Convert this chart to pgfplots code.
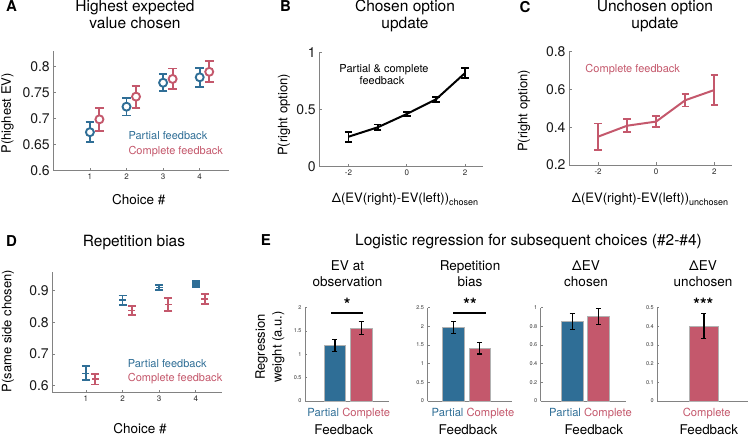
\documentclass[border=0pt]{standalone}
\usepackage{fontspec}
\setmainfont{TeX Gyre Heros}
\usepackage{pgfplots}
\pgfplotsset{compat=1.18}
\definecolor{pblue}{RGB}{47,110,150}
\definecolor{cred}{RGB}{196,88,108}
\definecolor{axgray}{RGB}{130,130,130}
\newcommand{\fs}[1]{\fontsize{#1}{#1}\selectfont}
\pgfplotsset{
  base/.style={scale only axis, anchor=south west,
    axis x line*=bottom, axis y line*=left,
    axis line style={-, axgray, line width=0.7pt},
    tick style={axgray, line width=0.7pt},
    tick align=inside, major tick length=2.5pt,
    /pgf/number format/assume math mode=true,
    clip=false,
    xticklabel style={font=\fs{8}, text=black!85},
    yticklabel style={font=\fs{14}, text=black!90},
  },
  ebase/.style={base, xtick=\empty, ymin=0,
    yticklabel style={font=\fs{5.5}, text=black!80},
    major tick length=2pt},
  ebars/.style={error bars/.cd, y dir=both, y explicit,
    error bar style={black, line width=1.2pt},
    error mark options={rotate=90, black, mark size=2.5pt, line width=1.2pt}},
  circ/.style={only marks, mark=*, mark size=4pt,
    mark options={draw=#1, fill=white, line width=1.9pt},
    error bars/.cd, y dir=both, y explicit,
    error bar style={#1, line width=1.9pt},
    error mark options={rotate=90, #1, mark size=4.3pt, line width=1.9pt}},
  dash/.style={only marks, mark=-, mark size=3.5pt,
    mark options={draw=#1, line width=1.6pt},
    error bars/.cd, y dir=both, y explicit,
    error bar style={#1, line width=1.8pt},
    error mark options={rotate=90, #1, mark size=4pt, line width=1.8pt}},
  lineeb/.style={#1, line width=2pt, no markers,
    error bars/.cd, y dir=both, y explicit,
    error bar style={#1, line width=1.8pt},
    error mark options={rotate=90, #1, mark size=3.7pt, line width=1.8pt}},
}
\begin{document}
\begin{tikzpicture}
\path[use as bounding box] (0,0) rectangle (750pt,437pt);

% ---------------- Panel A ----------------
\begin{axis}[base, at={(53.3pt,266.3pt)}, width=175.7pt, height=119.7pt,
  xmin=0, xmax=4.8, ymin=0.6, ymax=0.83,
  xtick={1,2,3,4}, ytick={0.6,0.65,0.7,0.75,0.8}]
\addplot[circ=pblue] coordinates {
  (1,0.674) +- (0,0.019)
  (2,0.723) +- (0,0.017)
  (3,0.769) +- (0,0.016)
  (4,0.7795) +- (0,0.018)};
\addplot[circ=cred] coordinates {
  (1.26,0.6987) +- (0,0.022)
  (2.26,0.7423) +- (0,0.021)
  (3.26,0.7763) +- (0,0.020)
  (4.26,0.790) +- (0,0.020)};
\end{axis}
\node[anchor=base west, font=\fs{15}\bfseries] at (2.7pt,425.3pt) {A};
\node[anchor=base, font=\fs{15.5}] at (135pt,425.3pt) {Highest expected};
\node[anchor=base, font=\fs{15.5}] at (135pt,408.7pt) {value chosen};
\node[rotate=90, font=\fs{13}] at (7.5pt,323.7pt) {P(highest EV)};
\node[anchor=base, font=\fs{13.5}] at (138.7pt,232pt) {Choice \#};
\node[anchor=base west, font=\fs{11}, text=pblue] at (125pt,297pt) {Partial feedback};
\node[anchor=base west, font=\fs{11}, text=cred] at (125pt,282.7pt) {Complete feedback};

% ---------------- Panel B ----------------
\begin{axis}[base, at={(319.3pt,270.3pt)}, width=163.4pt, height=114.4pt,
  xmin=-3, xmax=2.6, ymin=0, ymax=1,
  xtick={-2,0,2}, ytick={0,0.5,1}]
\addplot[lineeb=black] coordinates {
  (-2,0.262) +- (0,0.043)
  (-1,0.344) +- (0,0.024)
  (0,0.461) +- (0,0.018)
  (1,0.589) +- (0,0.023)
  (2,0.820) +- (0,0.045)};
\end{axis}
\node[anchor=base west, font=\fs{15}\bfseries] at (276.7pt,425.3pt) {B};
\node[anchor=base, font=\fs{15.5}] at (405pt,425.3pt) {Chosen option};
\node[anchor=base, font=\fs{15.5}] at (405pt,408.7pt) {update};
\node[rotate=90, font=\fs{13}] at (284pt,322pt) {P(right option)};
\node[anchor=base, font=\fs{13}] at (405pt,234.3pt) {Δ(EV(right)-EV(left))\raisebox{-2.5pt}{\fs{9}chosen}};
\node[anchor=base, font=\fs{11}] at (384pt,364.3pt) {Partial \& complete};
\node[anchor=base, font=\fs{11}] at (382pt,352pt) {feedback};

% ---------------- Panel C ----------------
\begin{axis}[base, at={(569pt,272pt)}, width=162.7pt, height=113.3pt,
  xmin=-3, xmax=2.6, ymin=0.2, ymax=0.8,
  xtick={-2,0,2}, ytick={0.2,0.4,0.6,0.8}]
\addplot[lineeb=cred] coordinates {
  (-2,0.350) +- (0,0.070)
  (-1,0.408) +- (0,0.034)
  (0,0.430) +- (0,0.030)
  (1,0.543) +- (0,0.033)
  (2,0.597) +- (0,0.078)};
\end{axis}
\node[anchor=base west, font=\fs{15}\bfseries] at (516pt,424.7pt) {C};
\node[anchor=base, font=\fs{15.5}] at (655pt,425.3pt) {Unchosen option};
\node[anchor=base, font=\fs{15.5}] at (655pt,408.7pt) {update};
\node[rotate=90, font=\fs{13}] at (524pt,326pt) {P(right option)};
\node[anchor=base, font=\fs{13}] at (650pt,234.3pt) {Δ(EV(right)-EV(left))\raisebox{-2.5pt}{\fs{9}unchosen}};
\node[anchor=base, font=\fs{11}, text=cred] at (632.7pt,364.3pt) {Complete feedback};

% ---------------- Panel D ----------------
\begin{axis}[base, at={(52.3pt,44.5pt)}, width=169.4pt, height=120.8pt,
  xmin=0.08, xmax=4.71, ymin=0.5785, ymax=0.96,
  xtick={1,2,3,4}, ytick={0.6,0.7,0.8,0.9}]
\addplot[dash=pblue] coordinates {
  (1,0.639) +- (0,0.022)
  (2,0.870) +- (0,0.015)
  (3,0.910) +- (0,0.008)};
\addplot[only marks, mark=square*, mark size=3.6pt, mark options={pblue}] coordinates {(4,0.923)};
\addplot[dash=cred] coordinates {
  (1.25,0.621) +- (0,0.017)
  (2.25,0.837) +- (0,0.015)
  (3.25,0.856) +- (0,0.021)
  (4.25,0.874) +- (0,0.015)};
\end{axis}
\node[anchor=base west, font=\fs{15}\bfseries] at (2.7pt,190.3pt) {D};
\node[anchor=base, font=\fs{15.5}] at (134pt,190.3pt) {Repetition bias};
\node[rotate=90, font=\fs{13}] at (8pt,106pt) {P(same side chosen)};
\node[anchor=base, font=\fs{13.5}] at (140pt,3.7pt) {Choice \#};
\node[anchor=base west, font=\fs{11}, text=pblue] at (124.3pt,69.3pt) {Partial feedback};
\node[anchor=base west, font=\fs{11}, text=cred] at (124.3pt,56pt) {Complete feedback};

% ---------------- Panel E ----------------
\node[anchor=base west, font=\fs{15}\bfseries] at (257.3pt,191.3pt) {E};
\node[anchor=base, font=\fs{15.5}] at (528.5pt,191.3pt) {Logistic regression for subsequent choices (\#2-\#4)};
\node[rotate=90, font=\fontsize{13}{16.7}\selectfont, align=center] at (270pt,90pt) {Regression\\weight (a.u.)};

% E1
\begin{axis}[ebase, at={(305pt,36pt)}, width=84pt, height=93.3pt,
  xmin=-0.14, xmax=3.06, ymax=2, ytick={0,0.5,1,1.5,2}]
\addplot[ybar, bar width=0.82, bar shift=0pt, fill=pblue, draw=gray!60, line width=0.6pt, ebars]
  coordinates {(1,1.19) +- (0,0.13)};
\addplot[ybar, bar width=0.82, bar shift=0pt, fill=cred, draw=gray!60, line width=0.6pt, ebars]
  coordinates {(2,1.56) +- (0,0.14)};
\end{axis}
\node[anchor=base, font=\fs{13.5}] at (347.5pt,166.3pt) {EV at};
\node[anchor=base, font=\fs{13.5}] at (347.5pt,150.3pt) {observation};
\draw[black, line width=1.5pt] (331.3pt,124pt) -- (363.3pt,124pt);
\node[anchor=base, font=\fs{17}\bfseries] at (347.3pt,127pt) {*};
\node[anchor=base, font=\fs{11.2}] at (348.7pt,21pt) {\textcolor{pblue}{Partial} \textcolor{cred}{Complete}};
\node[anchor=base, font=\fs{13.4}] at (343.7pt,3pt) {Feedback};

% E2
\begin{axis}[ebase, at={(427.5pt,36pt)}, width=84.2pt, height=93.3pt,
  xmin=0.01, xmax=3.21, ymax=2.5, ytick={0,0.5,1,1.5,2,2.5}]
\addplot[ybar, bar width=0.82, bar shift=0pt, fill=pblue, draw=gray!60, line width=0.6pt, ebars]
  coordinates {(1,1.975) +- (0,0.165)};
\addplot[ybar, bar width=0.82, bar shift=0pt, fill=cred, draw=gray!60, line width=0.6pt, ebars]
  coordinates {(2,1.41) +- (0,0.15)};
\end{axis}
\node[anchor=base, font=\fs{13.5}] at (470pt,166.3pt) {Repetition};
\node[anchor=base, font=\fs{13.5}] at (470pt,150.3pt) {bias};
\draw[black, line width=1.5pt] (453.3pt,124pt) -- (486pt,124pt);
\node[anchor=base, font=\fs{17}\bfseries] at (470pt,127pt) {**};
\node[anchor=base, font=\fs{11.2}] at (473pt,21pt) {\textcolor{pblue}{Partial} \textcolor{cred}{Complete}};
\node[anchor=base, font=\fs{13.4}] at (468pt,3pt) {Feedback};

% E3
\begin{axis}[ebase, at={(540.7pt,36pt)}, width=85.3pt, height=93.3pt,
  xmin=-0.2, xmax=3.05, ymax=1, ytick={0,0.2,0.4,0.6,0.8,1}]
\addplot[ybar, bar width=0.82, bar shift=0pt, fill=pblue, draw=gray!60, line width=0.6pt, ebars]
  coordinates {(1,0.850) +- (0,0.087)};
\addplot[ybar, bar width=0.82, bar shift=0pt, fill=cred, draw=gray!60, line width=0.6pt, ebars]
  coordinates {(2,0.905) +- (0,0.088)};
\end{axis}
\node[anchor=base, font=\fs{13.5}] at (586pt,166.3pt) {ΔEV};
\node[anchor=base, font=\fs{13.5}] at (586pt,150.3pt) {chosen};
\node[anchor=base, font=\fs{11.2}] at (590.5pt,21pt) {\textcolor{pblue}{Partial} \textcolor{cred}{Complete}};
\node[anchor=base, font=\fs{13.4}] at (593.8pt,3pt) {Feedback};

% E4
\begin{axis}[ebase, at={(657.3pt,36pt)}, width=90.5pt, height=93.3pt,
  xmin=-0.776, xmax=2.67, ymax=0.5, ytick={0,0.1,0.2,0.3,0.4,0.5}]
\addplot[ybar, bar width=1.13, bar shift=0pt, fill=cred, draw=gray!60, line width=0.6pt, ebars]
  coordinates {(1,0.403) +- (0,0.068)};
\end{axis}
\node[anchor=base, font=\fs{13.5}] at (703pt,166.3pt) {ΔEV};
\node[anchor=base, font=\fs{13.5}] at (703pt,150.3pt) {unchosen};
\node[anchor=base, font=\fs{17}\bfseries] at (703.3pt,127pt) {***};
\node[anchor=base, font=\fs{11.2}, text=cred] at (706.7pt,21pt) {Complete};
\node[anchor=base, font=\fs{13.4}] at (708.8pt,3pt) {Feedback};
\end{tikzpicture}
\end{document}
